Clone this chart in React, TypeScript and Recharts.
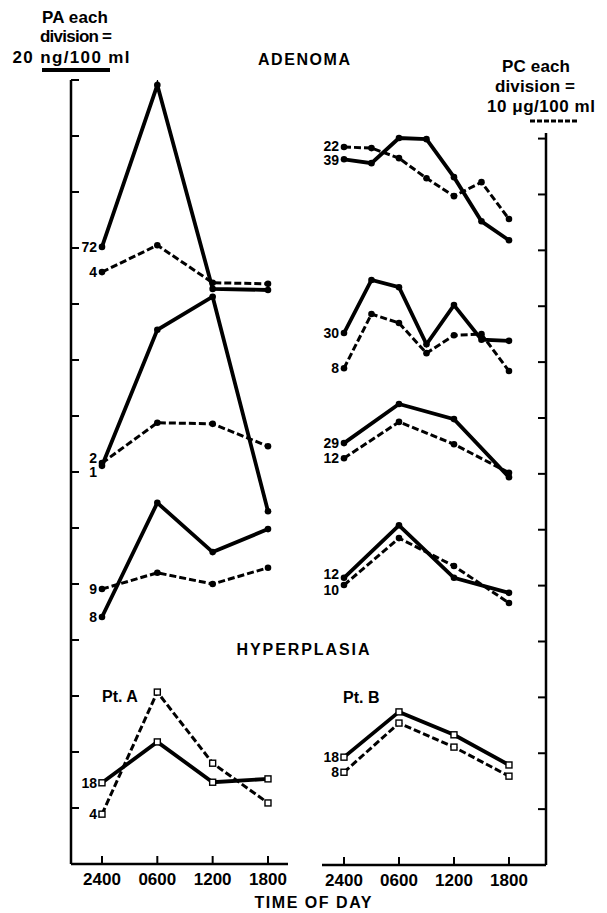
import { LineChart, Line, XAxis, YAxis } from "recharts"

const FONT = "'Liberation Sans', Arial, sans-serif"

const HOURS = [0, 6, 12, 18]
const HOURS_FINE = [0, 3, 6, 9, 12, 15, 18]
const TIME_LABELS = ["2400", "0600", "1200", "1800"]
const LEFT_TICKS = [1, 2, 3, 4, 5, 6, 7, 8, 9, 10, 11, 12, 13, 14]
const RIGHT_TICKS = [1, 2, 3, 4, 5, 6, 7, 8, 9, 10, 11, 12, 13]

// values are in axis divisions (PA solid, PC dashed)
// left panel - adenoma
const adA_pa = [11.02, 13.91, 10.27, 10.25]
const adA_pc = [10.57, 11.05, 10.38, 10.36]
const adB_pa = [7.11, 9.54, 10.13, 6.3]
const adB_pc = [7.16, 7.88, 7.86, 7.46]
const adC_pa = [4.41, 6.45, 5.57, 5.98]
const adC_pc = [4.91, 5.2, 5.0, 5.29]
// left panel - hyperplasia pt. A
const ptA_pa = [1.45, 2.18, 1.46, 1.52]
const ptA_pc = [0.89, 3.07, 1.8, 1.09]

// right panel - adenoma
const adD_pa = [12.63, 12.56, 13.01, 12.99, 12.31, 11.52, 11.18]
const adD_pc = [12.85, 12.83, 12.65, 12.29, 11.97, 12.22, 11.56]
const adE_pa = [9.52, 10.47, 10.34, 9.32, 10.02, 9.4, 9.38]
const adE_pc = [8.89, 9.86, 9.7, 9.16, 9.48, 9.5, 8.84]
const adF_pa = [7.55, 8.25, 7.98, 6.94]
const adF_pc = [7.28, 7.93, 7.53, 7.02]
const adG_pa = [5.14, 6.08, 5.14, 4.87]
const adG_pc = [5.01, 5.85, 5.35, 4.69]
// right panel - hyperplasia pt. B
const ptB_pa = [1.93, 2.74, 2.33, 1.79]
const ptB_pc = [1.66, 2.54, 2.11, 1.59]

type Series = {
  key: string
  hours: number[]
  values: number[]
  dashed: boolean
  square: boolean
  tag: string
  tagDy: number
}

const leftSeries: Series[] = [
  { key: "a1", hours: HOURS, values: adA_pa, dashed: false, square: false, tag: "72", tagDy: 0 },
  { key: "a2", hours: HOURS, values: adA_pc, dashed: true, square: false, tag: "4", tagDy: 0 },
  { key: "b1", hours: HOURS, values: adB_pa, dashed: false, square: false, tag: "2", tagDy: -8 },
  { key: "b2", hours: HOURS, values: adB_pc, dashed: true, square: false, tag: "1", tagDy: 9 },
  { key: "c1", hours: HOURS, values: adC_pa, dashed: false, square: false, tag: "8", tagDy: 0 },
  { key: "c2", hours: HOURS, values: adC_pc, dashed: true, square: false, tag: "9", tagDy: 0 },
  { key: "p1", hours: HOURS, values: ptA_pa, dashed: false, square: true, tag: "18", tagDy: 0 },
  { key: "p2", hours: HOURS, values: ptA_pc, dashed: true, square: true, tag: "4", tagDy: 0 },
]

const rightSeries: Series[] = [
  { key: "d1", hours: HOURS_FINE, values: adD_pa, dashed: false, square: false, tag: "39", tagDy: 1 },
  { key: "d2", hours: HOURS_FINE, values: adD_pc, dashed: true, square: false, tag: "22", tagDy: -1 },
  { key: "e1", hours: HOURS_FINE, values: adE_pa, dashed: false, square: false, tag: "30", tagDy: 0 },
  { key: "e2", hours: HOURS_FINE, values: adE_pc, dashed: true, square: false, tag: "8", tagDy: 0 },
  { key: "f1", hours: HOURS, values: adF_pa, dashed: false, square: false, tag: "29", tagDy: 0 },
  { key: "f2", hours: HOURS, values: adF_pc, dashed: true, square: false, tag: "12", tagDy: 0 },
  { key: "g1", hours: HOURS, values: adG_pa, dashed: false, square: false, tag: "12", tagDy: -4 },
  { key: "g2", hours: HOURS, values: adG_pc, dashed: true, square: false, tag: "10", tagDy: 5 },
  { key: "q1", hours: HOURS, values: ptB_pa, dashed: false, square: true, tag: "18", tagDy: 0 },
  { key: "q2", hours: HOURS, values: ptB_pc, dashed: true, square: true, tag: "8", tagDy: 0 },
]

const toRows = (s: Series) => s.hours.map((t, i) => ({ t, v: s.values[i] }))

function makeDot(s: Series) {
  return (p: any) => {
    const { cx, cy, index } = p
    if (cx == null || cy == null) return <g key={`${s.key}-${index}`} />
    return (
      <g key={`${s.key}-${index}`}>
        {s.square ? (
          <rect x={cx - 3} y={cy - 3} width={6} height={6} fill="#fff" stroke="#000" strokeWidth={1.4} />
        ) : (
          <circle cx={cx} cy={cy} r={3.3} fill="#000" />
        )}
        {index === 0 && (
          <text
            x={cx - 5}
            y={cy + s.tagDy}
            textAnchor="end"
            dominantBaseline="central"
            fontSize={14}
            fontWeight="bold"
            fontFamily={FONT}
            fill="#000"
          >
            {s.tag}
          </text>
        )}
      </g>
    )
  }
}

function renderLines(list: Series[]) {
  return list.map((s) => (
    <Line
      key={s.key}
      data={toRows(s)}
      dataKey="v"
      type="linear"
      stroke="#000"
      strokeWidth={s.dashed ? 3 : 3.8}
      strokeDasharray={s.dashed ? "7 3" : undefined}
      dot={makeDot(s)}
      activeDot={false}
      isAnimationActive={false}
    />
  ))
}

const fmtTime = (v: number) => TIME_LABELS[HOURS.indexOf(v)] ?? ""

// inward tick marks, label below the axis
const TimeTick = (p: any) => {
  const { x, y, payload } = p
  return (
    <g>
      <line x1={x} y1={y} x2={x} y2={y - 8} stroke="#000" strokeWidth={2} />
      <text x={x} y={y + 21} textAnchor="middle" fontSize={17} fontWeight="bold" fontFamily={FONT} fill="#000">
        {fmtTime(payload.value)}
      </text>
    </g>
  )
}

const LeftTick = (p: any) => (
  <line x1={p.x} y1={p.y} x2={p.x + 8} y2={p.y} stroke="#000" strokeWidth={2} />
)

const RightTick = (p: any) => (
  <line x1={p.x} y1={p.y} x2={p.x - 8} y2={p.y} stroke="#000" strokeWidth={2} />
)

const axisLine = { stroke: "#000", strokeWidth: 2.5 }

export default function App() {
  return (
    <div style={{ position: "absolute", left: 0, top: 0, width: 607, height: 913, background: "#fff", fontFamily: FONT }}>
      <div style={{ position: "absolute", left: 0, top: 0 }}>
        <LineChart width={300} height={913} margin={{ top: 80, right: 12, bottom: 19, left: 51 }}>
          <XAxis
            type="number"
            dataKey="t"
            domain={[-3.36, 20.17]}
            ticks={HOURS}
            interval={0}
            allowDataOverflow
            height={30}
            tickSize={0}
            tickMargin={0}
            tickLine={false}
            axisLine={axisLine}
            tick={TimeTick}
          />
          <YAxis
            type="number"
            domain={[0, 14]}
            ticks={LEFT_TICKS}
            interval={0}
            allowDataOverflow
            width={20}
            tickSize={0}
            tickMargin={0}
            tickLine={false}
            axisLine={axisLine}
            tick={LeftTick}
          />
          {renderLines(leftSeries)}
        </LineChart>
      </div>
      <div style={{ position: "absolute", left: 300, top: 0 }}>
        <LineChart width={307} height={913} margin={{ top: 133, right: 41, bottom: 18, left: 22 }}>
          <XAxis
            type="number"
            dataKey="t"
            domain={[-2.4, 22.04]}
            ticks={HOURS}
            interval={0}
            allowDataOverflow
            height={30}
            tickSize={0}
            tickMargin={0}
            tickLine={false}
            axisLine={axisLine}
            tick={TimeTick}
          />
          <YAxis
            type="number"
            orientation="right"
            domain={[0, 13.1]}
            ticks={RIGHT_TICKS}
            interval={0}
            allowDataOverflow
            width={20}
            tickSize={0}
            tickMargin={0}
            tickLine={false}
            axisLine={axisLine}
            tick={RightTick}
          />
          {renderLines(rightSeries)}
        </LineChart>
      </div>
      <svg
        width={607}
        height={913}
        style={{ position: "absolute", left: 0, top: 0, pointerEvents: "none" }}
        fontFamily={FONT}
        fontWeight="bold"
        fill="#000"
      >
        <text x={75} y={23} fontSize={17} textAnchor="middle" textLength={66}>PA each</text>
        <text x={76} y={42} fontSize={17} textAnchor="middle" textLength={72}>division =</text>
        <text x={71} y={63} fontSize={17} textAnchor="middle" textLength={117}>20 ng/100 ml</text>
        <line x1={42} y1={70} x2={110} y2={70} stroke="#000" strokeWidth={4} />

        <text x={304} y={65} fontSize={16} textAnchor="middle" textLength={92}>ADENOMA</text>

        <text x={536} y={72} fontSize={17} textAnchor="middle" textLength={68}>PC each</text>
        <text x={535} y={92} fontSize={17} textAnchor="middle" textLength={80}>division =</text>
        <text x={541} y={112} fontSize={17} textAnchor="middle" textLength={108}>10 μg/100 ml</text>
        <line x1={530} y1={121} x2={577} y2={121} stroke="#000" strokeWidth={3} strokeDasharray="5 2" />

        <text x={303} y={655} fontSize={16} textAnchor="middle" textLength={133}>HYPERPLASIA</text>
        <text x={102} y={702} fontSize={16}>Pt. A</text>
        <text x={343} y={703} fontSize={16}>Pt. B</text>

        <text x={313} y={908} fontSize={16} textAnchor="middle" textLength={117}>TIME OF DAY</text>
      </svg>
    </div>
  )
}
